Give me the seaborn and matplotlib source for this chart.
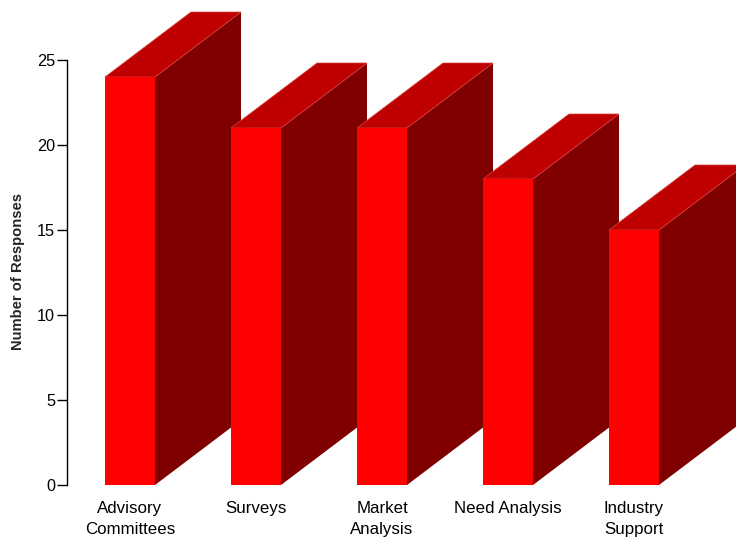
import numpy as np
import pandas as pd
import matplotlib
matplotlib.use("Agg")
import matplotlib.pyplot as plt
from matplotlib.patches import Polygon
import seaborn as sns

# Survey results: how needs are identified
categories = ["Advisory\nCommittees", "Surveys", "Market\nAnalysis", "Need Analysis", "Industry\nSupport"]
responses = [24, 21, 21, 18, 15]
y_ticks = [0, 5, 10, 15, 20, 25]

FRONT = "#ff0000"
SIDE = "#800000"
TOP = "#bf0000"
EDGE = "#d84040"

sns.set_theme(style="white")
plt.rcParams["font.family"] = ["Liberation Sans", "DejaVu Sans"]

W, H, DPI = 7.36, 5.38, 100
fig = plt.figure(figsize=(W, H), dpi=DPI)
ax = fig.add_axes([67 / 736, (538 - 485) / 538, (736 - 67) / 736, 485 / 538])

df = pd.DataFrame({"category": categories, "responses": responses})
sns.barplot(data=df, x="category", y="responses", color=FRONT, width=50 / 126,
            saturation=1, ax=ax, edgecolor="none", linewidth=0)

ax.set_xlim(-0.5, (736 - 130) / 126)
ax.set_ylim(0, 485 / 17)

# depth of the extruded bars, expressed in data units
dx = 86 / 126
dy = 65 / 17
half = (50 / 126) / 2

for i, (patch, v) in enumerate(zip(ax.patches, responses)):
    base = 2 + 3 * i
    xl, xr = i - half, i + half
    side = Polygon([(xr, 0), (xr + dx, dy), (xr + dx, v + dy), (xr, v)],
                   closed=True, facecolor=SIDE, edgecolor="none", zorder=base)
    top = Polygon([(xl, v), (xr, v), (xr + dx, v + dy), (xl + dx, v + dy)],
                  closed=True, facecolor=TOP, edgecolor=EDGE, linewidth=0.5,
                  zorder=base + 1)
    ax.add_patch(side)
    ax.add_patch(top)
    patch.set_zorder(base + 2)
    patch.set_clip_on(False)
    side.set_clip_on(False)
    top.set_clip_on(False)

ax.set_yticks(y_ticks)
ax.set_yticklabels([str(t) for t in y_ticks])
ax.tick_params(axis="y", direction="out", length=7, width=1, pad=1.5,
               labelsize=11.7, colors="black", left=True)
ax.tick_params(axis="x", length=0, pad=11.5, labelsize=12.2, colors="black")
for lbl in ax.get_xticklabels():
    lbl.set_linespacing(1.5)
    lbl.set_verticalalignment("top")

for s in ["top", "right", "bottom"]:
    ax.spines[s].set_visible(False)
ax.spines["left"].set_bounds(0, 25)
ax.spines["left"].set_color("black")
ax.spines["left"].set_linewidth(1)

ax.set_xlabel("")
ax.set_ylabel("")
fig.text(18 / 736, 1 - 272 / 538, "Number of Responses", rotation=90,
         ha="center", va="center", fontsize=10.6, fontweight="bold")

fig.savefig("out.png", dpi=DPI)
